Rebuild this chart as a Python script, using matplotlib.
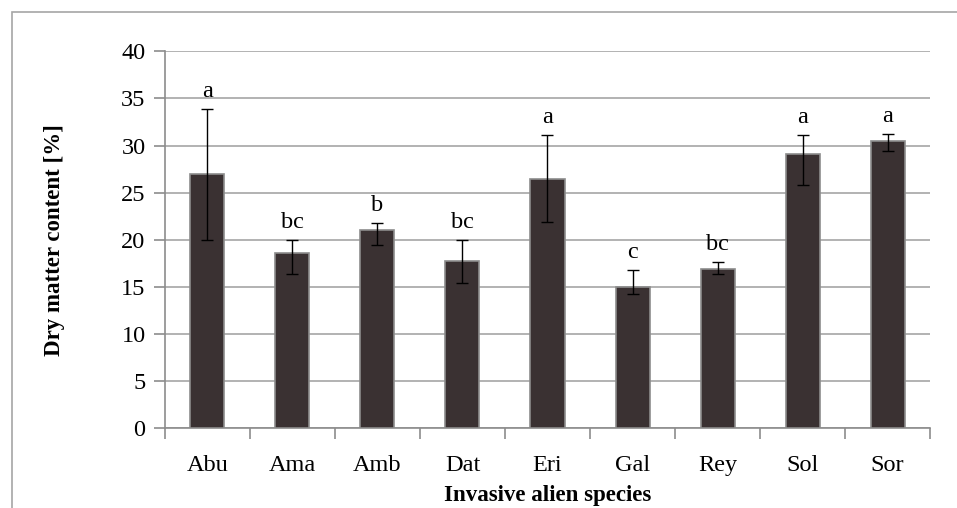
import matplotlib.pyplot as plt
import matplotlib.patches as patches
import numpy as np

species = ['Abu', 'Ama', 'Amb', 'Dat', 'Eri', 'Gal', 'Rey', 'Sol', 'Sor']
dryMatter = [27.0, 18.6, 21.0, 17.7, 26.5, 15.0, 16.9, 29.1, 30.5]
errLow = [7.0, 2.2, 1.6, 2.3, 4.6, 0.8, 0.5, 3.3, 1.1]
errHigh = [6.9, 1.4, 0.8, 2.3, 4.6, 1.8, 0.7, 2.0, 0.7]
letters = ['a', 'bc', 'b', 'bc', 'a', 'c', 'bc', 'a', 'a']

plt.rcParams['font.family'] = ['Liberation Serif', 'DejaVu Serif']

fig = plt.figure(figsize=(9.57, 5.08), dpi=100)
ax = fig.add_axes([0.1724, 0.1569, 0.7994, 0.7421])

# outer chart border (only top and left are visible)
fig.patches.append(patches.Rectangle((12/957, -0.1), 1.2, 1 - 12/508 + 0.1, transform=fig.transFigure,
                                     fill=False, edgecolor='#a6a6a6', linewidth=1.2, zorder=0))

x = np.arange(len(species))
ax.bar(x, dryMatter, width=0.4, color='#3a3132', edgecolor='#8c8c8c', linewidth=1.2, zorder=3)
ax.errorbar(x, dryMatter, yerr=[errLow, errHigh], fmt='none', ecolor='black', elinewidth=1,
            capsize=4.3, capthick=1, zorder=4)

for i in range(len(species)):
    ax.annotate(letters[i], (x[i], dryMatter[i] + errHigh[i]), xytext=(0, 5), textcoords='offset points',
                ha='center', va='bottom', fontsize=17.5)

ax.set_xlim(-0.5, len(species) - 0.5)
ax.set_ylim(0, 40)
ax.set_yticks(np.arange(0, 41, 5))
ax.set_xticks(x)
ax.set_xticklabels(species, fontsize=17.5)
ax.set_xticks(np.arange(-0.5, len(species), 1), minor=True)
ax.tick_params(axis='x', which='major', length=0, pad=19)
ax.tick_params(axis='x', which='minor', length=8, width=1.2, color='#8c8c8c', direction='out')
ax.tick_params(axis='y', length=8, width=1.2, color='#8c8c8c', direction='out', labelsize=17.5, pad=6)

ax.grid(axis='y', color='#a6a6a6', linewidth=1.2, zorder=0)
ax.set_axisbelow(True)
for side in ['top', 'right']:
    ax.spines[side].set_visible(False)
for side in ['left', 'bottom']:
    ax.spines[side].set_color('#8c8c8c')
    ax.spines[side].set_linewidth(1.2)

ax.set_ylabel('Dry matter content [%]', fontsize=16.5, fontweight='bold', labelpad=40)
ax.set_xlabel('Invasive alien species', fontsize=16.5, fontweight='bold', labelpad=7)

plt.savefig('out.png', dpi=100)
plt.close()
